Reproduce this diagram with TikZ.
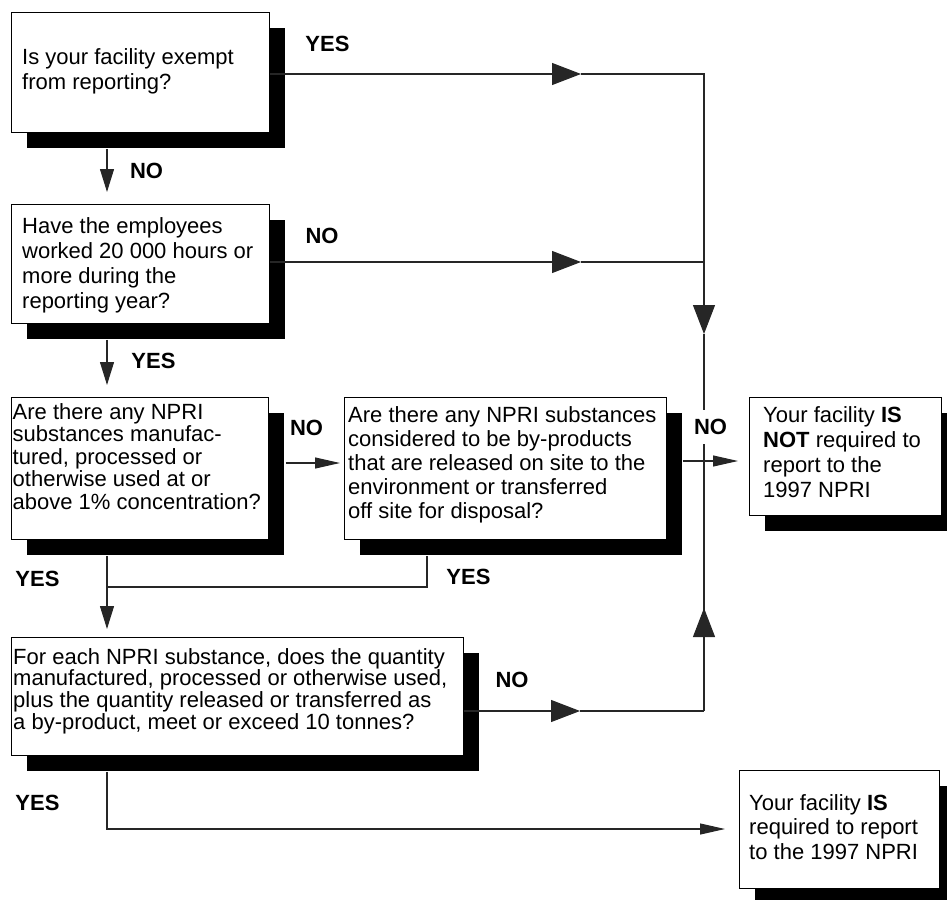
\documentclass[tikz,border=0pt]{standalone}
\usepackage{fontspec}
\setmainfont{Liberation Sans}
\usetikzlibrary{arrows.meta,shadows}
\begin{document}
\begin{tikzpicture}[x=1pt,y=-1pt,
  qbox/.style={draw=black, line width=0.9pt, fill=white, anchor=north west, inner sep=0pt,
    drop shadow={shadow xshift=16pt, shadow yshift=-16pt, fill=black, opacity=1}},
  qtext/.style={anchor=north west, inner sep=0pt, align=left, font=\fontsize{22}{25}\selectfont},
  lab/.style={inner sep=0pt, font=\fontsize{22}{25}\selectfont\bfseries},
  conn/.style={draw=black!85, line width=1.1pt},
  bigarr/.style={-{Triangle[length=29pt,width=22pt]}},
  medarr/.style={-{Triangle[length=23pt,width=14pt]}},
  smallarr/.style={-{Triangle[length=25pt,width=11pt]}}
]
\useasboundingbox (0,0) rectangle (947,899);

% coordinates
\coordinate (c1) at (107,0);
\coordinate (j1) at (704,74);
\coordinate (a1) at (581,74);
\coordinate (j2) at (704,262);
\coordinate (a2) at (581,262);
\coordinate (a3) at (704,334);
\coordinate (j5) at (704,711);
\coordinate (a4) at (704,608);
\coordinate (a5) at (580,711);
\coordinate (a6) at (107,192);
\coordinate (a7) at (107,385);
\coordinate (a8) at (340,463);
\coordinate (a9) at (107,629);
\coordinate (j3) at (427,587);
\coordinate (a10) at (738,461);
\coordinate (j6) at (107,829);
\coordinate (a11) at (725,829);

% boxes
\node[qbox, minimum width=258pt, minimum height=120pt] (b1) at (11,12) {};
\node[qbox, minimum width=258pt, minimum height=119pt] (b2) at (11,204) {};
\node[qbox, minimum width=257pt, minimum height=142pt] (b3) at (11,397) {};
\node[qbox, minimum width=322pt, minimum height=142pt] (b4) at (344,397) {};
\node[qbox, minimum width=452pt, minimum height=118pt] (b5) at (11,637) {};
\node[qbox, minimum width=192pt, minimum height=118pt] (bn) at (749,397) {};
\node[qbox, minimum width=200pt, minimum height=118pt] (by) at (739,770) {};

% connectors
\draw[conn,bigarr] (b1.east |- j1) -- (a1);
\draw[conn,bigarr] (a1) -- (j1) -- (a3);
\draw[conn] (a3) -- (j5);
\draw[conn,bigarr] (b2.east |- j2) -- (a2);
\draw[conn] (a2) -- (j2);
\draw[conn,bigarr] (b5.east |- j5) -- (a5);
\draw[conn] (a5) -- (j5);
\draw[conn,bigarr] (j5) -- (a4);
\draw[conn,medarr] (c1 |- b1.south) ++(0,16) -- (a6);
\draw[conn,medarr] (c1 |- b2.south) ++(0,16) -- (a7);
\draw[conn,smallarr] (b3.east |- a8) ++(17,0) -- (a8);
\draw[conn,medarr] (c1 |- b3.south) ++(0,16) -- (a9);
\draw[conn] (b4.south -| j3) ++(0,16) -- (j3) -- (c1 |- j3);
\draw[conn,smallarr] (b4.east |- a10) ++(16,0) -- (a10);
\draw[conn,smallarr] (c1 |- b5.south) ++(0,16) -- (j6) -- (a11);

% texts
\node[qtext] (t1) at (22,48) {Is your facility exempt\\from reporting?};
\node[qtext, font=\fontsize{22}{25.2}\selectfont] (t2) at (22,217) {Have the employees\\worked 20 000 hours or\\more during the\\reporting year?};
\node[qtext, font=\fontsize{22}{22.5}\selectfont] (t3) at (12.5,403) {Are there any NPRI\\substances manufac-\\tured, processed or\\otherwise used at or\\above 1\% concentration?};
\node[qtext, font=\fontsize{22}{24}\selectfont] (t4) at (348,406) {Are there any NPRI substances\\considered to be by-products\\that are released on site to the\\environment or transferred\\off site for disposal?};
\node[qtext, font=\fontsize{22}{21.7}\selectfont] (t5) at (13,648) {For each NPRI substance, does the quantity\\manufactured, processed or otherwise used,\\plus the quantity released or transferred as\\a by-product, meet or exceed 10 tonnes?};
\node[qtext] (tn) at (763,406) {Your facility \textbf{IS}\\\textbf{NOT} required to\\report to the\\1997 NPRI};
\node[qtext, font=\fontsize{22}{24.5}\selectfont] (ty) at (749,794) {Your facility \textbf{IS}\\required to report\\to the 1997 NPRI};

% labels
\node[lab] (l1) at (327.5,43.5) {YES};
\node[lab] (l2) at (146.5,170.5) {NO};
\node[lab] (l3) at (322,236) {NO};
\node[lab] (l4) at (153.5,361) {YES};
\node[lab] (l5) at (306.5,428) {NO};
\node[lab] (l6) at (37.5,579) {YES};
\node[lab] (l7) at (468.5,577) {YES};
\node[lab, fill=white, inner xsep=1pt, inner ysep=9pt] (l8) at (710.5,427) {NO};
\node[lab] (l9) at (512,680) {NO};
\node[lab] (l10) at (37.5,803) {YES};
\end{tikzpicture}
\end{document}
